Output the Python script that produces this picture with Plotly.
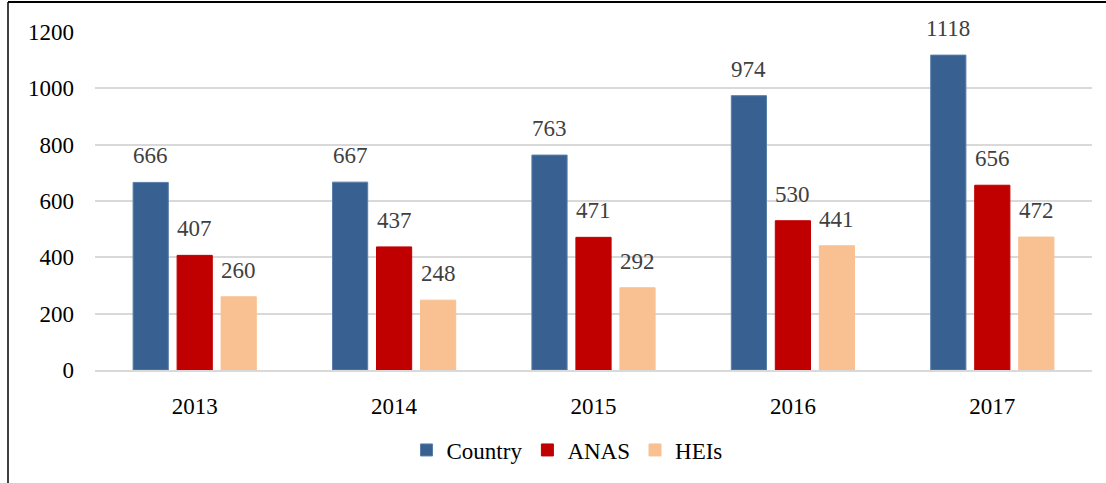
import plotly.graph_objects as go

years = ["2013", "2014", "2015", "2016", "2017"]
country = [666, 667, 763, 974, 1118]
anas = [407, 437, 471, 530, 656]
heis = [260, 248, 292, 441, 472]
y_ticks = [0, 200, 400, 600, 800, 1000, 1200]

W, H = 1106, 483
L, R, T, B = 95, 14, 32, 113
pw = W - L - R
ph = H - T - B

FONT = "Liberation Serif, Times New Roman, serif"
xpos = list(range(len(years)))

fig = go.Figure()
series = [("Country", country, "#386192", "#5a7eaa"),
          ("ANAS", anas, "#C00000", "#C00000"),
          ("HEIs", heis, "#F9C192", "#F9C192")]
annotations = []
for i, (name, vals, col, lc) in enumerate(series):
    fig.add_trace(go.Bar(
        name=name, x=xpos, y=vals,
        marker=dict(color=col, line=dict(color=lc, width=1)),
    ))
    for xp, v in zip(xpos, vals):
        annotations.append(dict(
            x=xp, y=v, xref="x", yref="y", text=str(v), showarrow=False,
            xanchor="center", yanchor="bottom", xshift=(i - 1) * 44, yshift=12,
            font=dict(family=FONT, size=23, color="#404040"),
        ))

def px_x(x):
    return (x - L) / pw

def px_y(y):
    return (H - B - y) / ph

fig.update_layout(
    width=W, height=H,
    margin=dict(l=L, r=R, t=T, b=B),
    paper_bgcolor="white", plot_bgcolor="white",
    barmode="group", bargap=0.338, bargroupgap=0.2,
    font=dict(family=FONT, size=23, color="black"),
    showlegend=True,
    legend=dict(orientation="h", xanchor="center", yanchor="middle",
                x=px_x(567), y=px_y(450), font=dict(size=23, color="black"),
                itemwidth=30, traceorder="normal"),
    xaxis=dict(range=[-0.5, len(years) - 0.5], tickvals=xpos, ticktext=years,
               showgrid=False, showline=True, linecolor="#D9D9D9", linewidth=2,
               zeroline=False, ticks="", ticklabelstandoff=14, tickfont=dict(size=23)),
    yaxis=dict(range=[0, 1200], tickvals=y_ticks, showgrid=True,
               gridcolor="#D9D9D9", gridwidth=2, zeroline=False, showline=False,
               ticks="", ticklabelstandoff=20, tickfont=dict(size=23)),
    annotations=annotations,
    shapes=[
        dict(type="line", xref="paper", yref="paper",
             x0=px_x(8), x1=px_x(8), y0=px_y(2), y1=px_y(H + 5),
             line=dict(color="#404040", width=2)),
        dict(type="line", xref="paper", yref="paper",
             x0=px_x(8), x1=px_x(W + 5), y0=px_y(2), y1=px_y(2),
             line=dict(color="black", width=2)),
    ],
)

fig.write_html("out.html", config={"displayModeBar": False},
               post_script="document.body.style.margin='0px';")
